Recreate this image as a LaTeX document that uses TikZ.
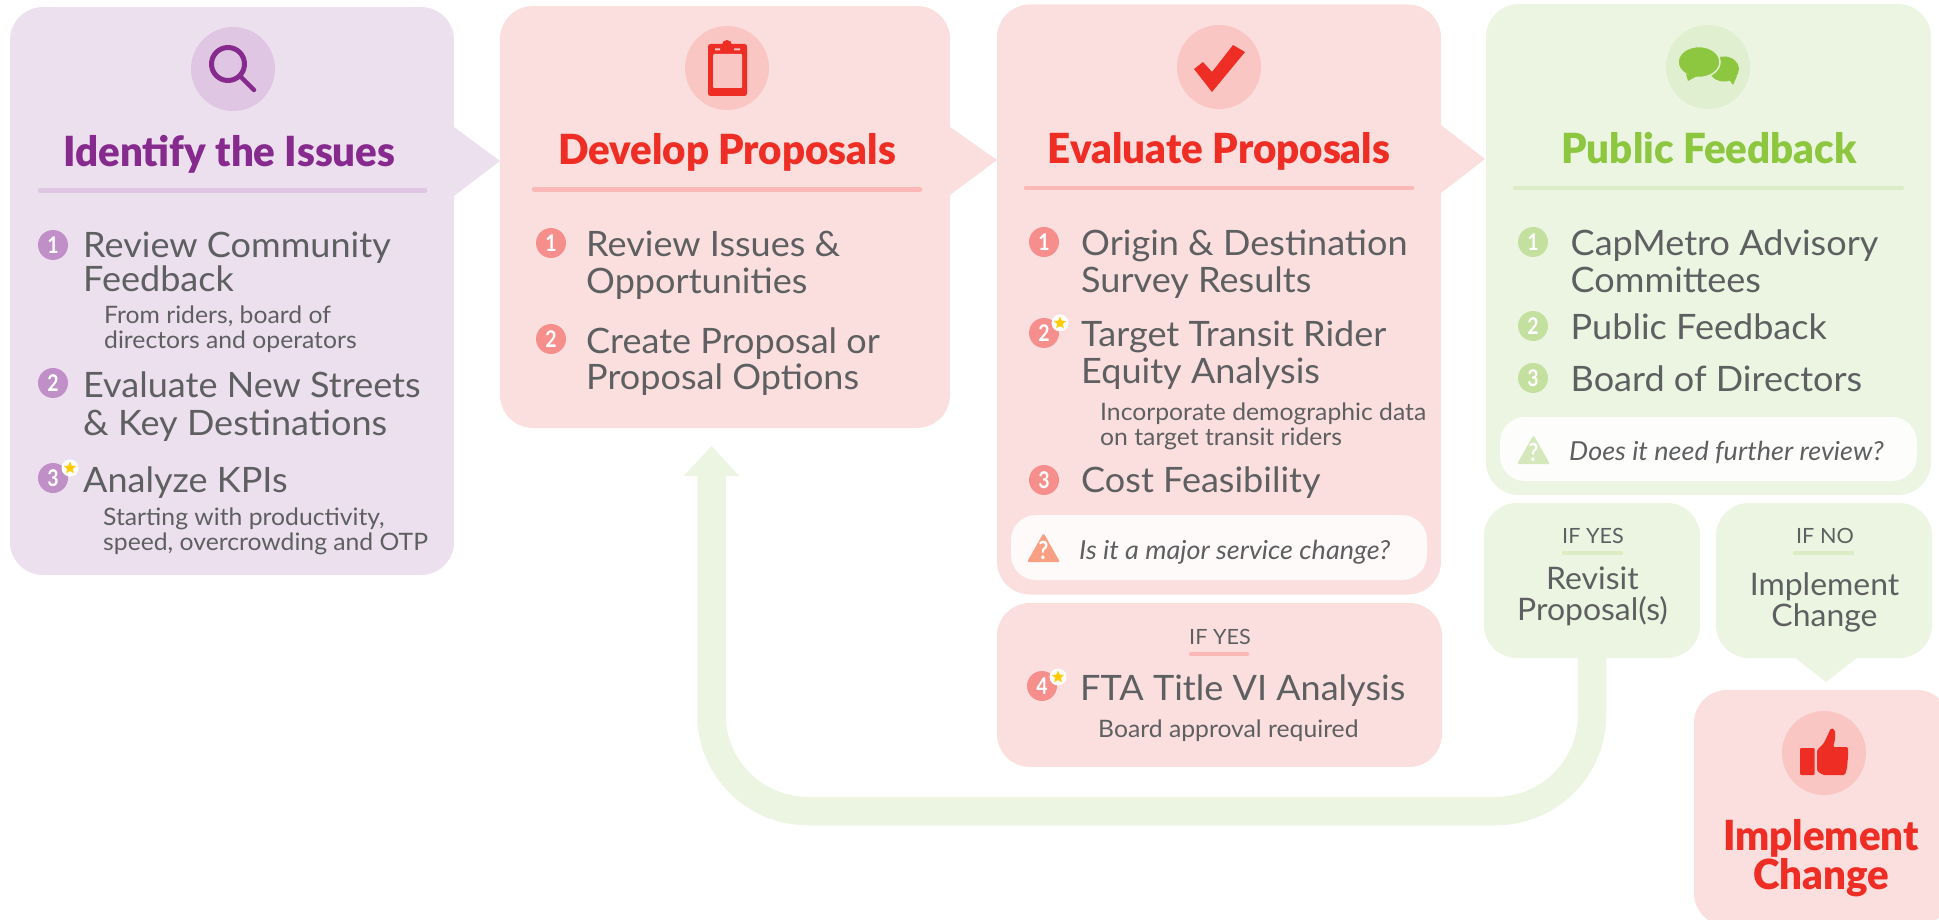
\documentclass[tikz,border=0pt]{standalone}
\usepackage{fontspec}
\setmainfont{Lato}[FakeStretch=1.03]
\newfontfamily\titlefont{Lato Black}[FakeStretch=0.97]
\newfontfamily\digitfont{Lato Bold}[FakeStretch=0.85]
\usetikzlibrary{positioning}
\usetikzlibrary{arrows.meta}
\usetikzlibrary{shapes.geometric}
\definecolor{ink}{RGB}{94,95,97}
\definecolor{purple-bg}{RGB}{236,224,238}
\definecolor{purple-soft}{RGB}{223,198,226}
\definecolor{purple-dot}{RGB}{192,143,199}
\definecolor{purple-main}{RGB}{135,42,142}
\definecolor{red-bg}{RGB}{251,223,223}
\definecolor{red-soft}{RGB}{249,198,196}
\definecolor{red-rule}{RGB}{251,184,182}
\definecolor{red-dot}{RGB}{246,143,140}
\definecolor{red-main}{RGB}{238,46,36}
\definecolor{red-warn}{RGB}{249,160,132}
\definecolor{green-bg}{RGB}{236,245,226}
\definecolor{green-soft}{RGB}{224,239,207}
\definecolor{green-rule}{RGB}{220,236,196}
\definecolor{green-dot}{RGB}{195,224,159}
\definecolor{green-main}{RGB}{141,198,63}
\definecolor{green-warn}{RGB}{213,232,188}
\definecolor{note-red}{RGB}{254,250,249}
\definecolor{note-green}{RGB}{253,253,251}
\definecolor{star-gold}{RGB}{255,203,5}
\newcommand{\iconback}[4]{\node[iconround,fill=#4] (#1) at (#2,#3) {};}
\newcommand{\numdot}[5]{\node[numround,fill=#4] (#1) at (#2,#3) {#5};}
\newcommand{\starmark}[3]{\node[starback] (#1) at (#2,#3) {};
\node[starfill] (#1in) at (#2,#3) {};}
\newcommand{\warnmark}[4]{\fill[#4,rounded corners=1.5pt] (#2,#3+29) -- (#2+16.5,#3) -- (#2+33,#3+29) -- cycle;
\node[warntext] (#1) at (#2+16.5,#3+17.5) {?};}

\begin{document}
\begin{tikzpicture}[x=1pt,y=-1pt,>=latex,
panel/.style={fill=#1,rounded corners=33pt,inner sep=0,outer sep=0},
note/.style={fill=#1,rounded corners=25pt,inner sep=0,outer sep=0},
iconround/.style={circle,inner sep=0,minimum size=84pt},
numround/.style={circle,inner sep=0,minimum size=30pt,text=white,font=\digitfont\fontsize{23}{23}\selectfont},
starback/.style={circle,fill=white,inner sep=0,minimum size=17pt},
starfill/.style={star,star points=5,star point ratio=2.2,fill=star-gold,inner sep=0,minimum size=13pt},
warntext/.style={inner sep=0,text=white,font=\digitfont\fontsize{25}{25}\selectfont},
heading/.style={anchor=base,inner sep=0,align=center,font=\titlefont\fontsize{41.5}{41.5}\selectfont},
itemtext/.style={anchor=base west,inner sep=0,align=left,text=ink,font=\fontsize{35}{37}\selectfont},
subtext/.style={anchor=base west,inner sep=0,align=left,text=ink,font=\fontsize{24}{24.5}\selectfont},
asktext/.style={anchor=base west,inner sep=0,text=ink,font=\itshape\fontsize{26.2}{26.2}\selectfont},
iftext/.style={anchor=base,inner sep=0,text=ink,font=\fontsize{21}{21}\selectfont},
choicetext/.style={anchor=base,inner sep=0,align=center,text=ink,font=\fontsize{31}{31}\selectfont},
hrule/.style={line width=4.5pt,line cap=round},
loopline/.style={green-bg,line width=28.5pt,rounded corners=96pt,-{Triangle[width=54pt,length=30pt]}}]

\useasboundingbox (0,0) rectangle (1939,920);
\clip (0,0) rectangle (1939,920);

%% return path first, panels sit on top of it
\node[panel=green-bg,minimum width=216,minimum height=155] (revisit) at (1592,580.5) {};
\coordinate (loopbase) at (1000,811);
\coordinate (looptip) at (711.5,446);
\draw[loopline] (revisit.south) |- (loopbase) -| (looptip);

%% Identify the Issues
\fill[purple-bg] (454,127) -- (500,161) -- (454,196) -- cycle;
\node[panel=purple-bg,minimum width=444,minimum height=568] (issues) at (232,291) {};
\iconback{issuesicon}{233}{69}{purple-soft}
\draw[purple-main,line width=5pt] (228,64) circle (16.5);
\draw[purple-main,line width=4.5pt,line cap=round] (240,76) -- (254,90);
\node[heading,text=purple-main] (issuestitle) at (229.5,167) {Identify the Issues};
\draw[purple-soft,hrule] (40,190.5) -- (425,190.5);
\numdot{issuesone}{53}{245}{purple-dot}{1}
\node[itemtext] (issuesa) at (83,291) {Review Community\\[-3pt]Feedback};
\node[subtext] (issuesasub) at (104,348) {From riders, board of\\directors and operators};
\numdot{issuestwo}{53}{383}{purple-dot}{2}
\node[itemtext] (issuesb) at (83,435) {Evaluate New Streets\\[1pt]\& Key Destinations};
\numdot{issuesthree}{53}{478}{purple-dot}{3}
\starmark{issuesstar}{70}{468}
\node[itemtext] (issuesc) at (83,492) {Analyze KPIs};
\node[subtext] (issuescsub) at (103,550) {Starting with productivity,\\speed, overcrowding and OTP};

%% Develop Proposals
\fill[red-bg] (950,127) -- (997,160) -- (950,195) -- cycle;
\node[panel=red-bg,minimum width=450,minimum height=422] (develop) at (725,217) {};
\iconback{developicon}{727}{68}{red-soft}
\fill[red-main,rounded corners=2.5pt] (708,44) rectangle (747,96);
\fill[red-main] (727,45) circle (5);
\fill[red-soft,rounded corners=1pt] (713,54) rectangle (742,88);
\fill[red-soft] (715,48.5) rectangle (720,50.5) (734,48.5) rectangle (740,50.5);
\node[heading,text=red-main] (developtitle) at (727,165) {Develop Proposals};
\draw[red-rule,hrule] (534,189.5) -- (920,189.5);
\numdot{developone}{551}{243}{red-dot}{1}
\node[itemtext] (developa) at (586,293) {Review Issues \&\\[-1pt]Opportunities};
\numdot{developtwo}{551}{339}{red-dot}{2}
\node[itemtext] (developb) at (586,389) {Create Proposal or\\[-1pt]Proposal Options};

%% Evaluate Proposals
\fill[red-bg] (1441,125) -- (1485,159) -- (1441,193) -- cycle;
\node[panel=red-bg,minimum width=444,minimum height=590] (evaluate) at (1219,299.5) {};
\iconback{evaluateicon}{1219}{67}{red-soft}
\fill[red-main] (1194,69) -- (1212,92) -- (1245,52) -- (1233,45) -- (1212,72) -- (1203,62) -- cycle;
\node[heading,text=red-main] (evaluatetitle) at (1219,164) {Evaluate Proposals};
\draw[red-rule,hrule] (1026,188) -- (1412,188);
\numdot{evaluateone}{1044}{242}{red-dot}{1}
\node[itemtext] (evaluatea) at (1081,292) {Origin \& Destination\\Survey Results};
\numdot{evaluatetwo}{1044}{333}{red-dot}{2}
\starmark{evaluatestar}{1060}{323}
\node[itemtext] (evaluateb) at (1081,383) {Target Transit Rider\\Equity Analysis};
\node[subtext] (evaluatebsub) at (1100,445) {Incorporate demographic data\\on target transit riders};
\numdot{evaluatethree}{1044}{480}{red-dot}{3}
\node[itemtext] (evaluatec) at (1081,492) {Cost Feasibility};
\node[note=note-red,minimum width=416,minimum height=65] (evaluatenote) at (1219,547.5) {};
\warnmark{evaluatewarn}{1027}{533}{red-warn}
\node[asktext] (evaluateask) at (1079,559) {Is it a major service change?};

%% FTA panel
\node[panel=red-bg,minimum width=445,minimum height=164] (fta) at (1219.5,685) {};
\node[iftext] (ftaif) at (1220,644) {IF YES};
\draw[red-rule,hrule] (1191,654) -- (1247,654);
\numdot{ftafour}{1042}{686}{red-dot}{4}
\starmark{ftastar}{1058}{677}
\node[itemtext] (ftaa) at (1080,700) {FTA Title VI Analysis};
\node[subtext] (ftasub) at (1098,737) {Board approval required};

%% Public Feedback
\node[panel=green-bg,minimum width=445,minimum height=491] (feedback) at (1708.5,249.5) {};
\iconback{feedbackicon}{1708}{67}{green-soft}
\fill[green-main] (1724,69) ellipse (15 and 12.5);
\fill[green-main] (1728,78) -- (1733,85) -- (1737,76) -- cycle;
\filldraw[green-main,draw=green-soft,line width=1.5pt] (1699,62) ellipse (21 and 15.5);
\fill[green-main] (1686,74) -- (1688,81) -- (1697,76) -- cycle;
\node[heading,text=green-main] (feedbacktitle) at (1709,164) {Public Feedback};
\draw[green-rule,hrule] (1515,188) -- (1902,188);
\numdot{feedbackone}{1533}{242}{green-dot}{1}
\node[itemtext] (feedbacka) at (1570.5,292) {CapMetro Advisory\\Committees};
\numdot{feedbacktwo}{1533}{326}{green-dot}{2}
\node[itemtext] (feedbackb) at (1570.5,339) {Public Feedback};
\numdot{feedbackthree}{1533}{378}{green-dot}{3}
\node[itemtext] (feedbackc) at (1570.5,391) {Board of Directors};
\node[note=note-green,minimum width=417,minimum height=64] (feedbacknote) at (1708.5,449) {};
\warnmark{feedbackwarn}{1517}{435}{green-warn}
\node[asktext] (feedbackask) at (1569,460) {Does it need further review?};

%% yes and no choices
\node[iftext] (revisitif) at (1593,543) {IF YES};
\draw[green-rule,hrule] (1564,553) -- (1621,553);
\node[choicetext] (revisittext) at (1592.5,620) {Revisit\\Proposal(s)};
\fill[green-bg] (1794,657) -- (1826,682) -- (1858,657) -- cycle;
\node[panel=green-bg,minimum width=216,minimum height=155] (implement) at (1824,580.5) {};
\node[iftext] (implementif) at (1825,543) {IF NO};
\draw[green-rule,hrule] (1795,553) -- (1852,553);
\node[choicetext] (implementtext) at (1824.5,626) {Implement\\Change};

%% Implement Change
\node[panel=red-bg,minimum width=256,minimum height=236] (done) at (1822,808) {};
\iconback{doneicon}{1824}{753}{red-soft}
\fill[red-main,rounded corners=1pt] (1800,748) rectangle (1814.5,775);
\fill[red-main,rounded corners=1.5pt] (1817,750) -- (1824,743) -- (1831,728) -- (1835,730) -- (1835,740) -- (1833,747)
  -- (1848,747) -- (1848,757) -- (1847,768) -- (1845,775) -- (1823,775) -- (1817,771) -- cycle;
\node[heading,text=red-main] (donetitle) at (1821,889) {Implement\\[-3pt]Change};

\end{tikzpicture}
\end{document}
